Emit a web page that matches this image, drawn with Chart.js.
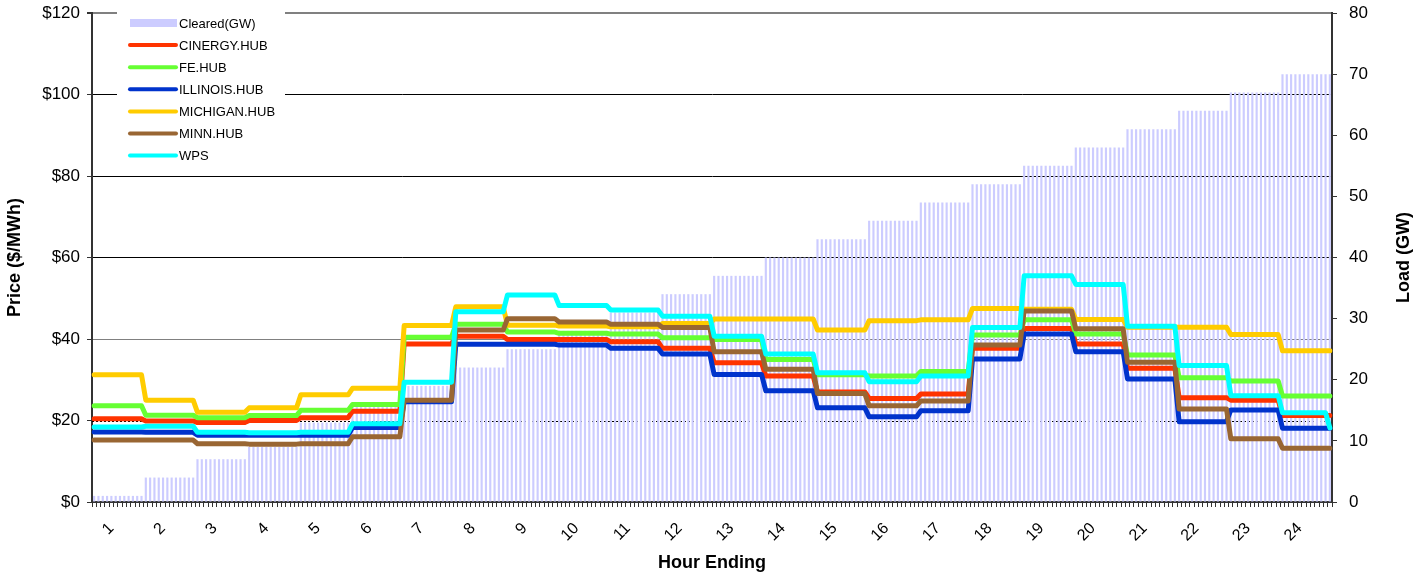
<!DOCTYPE html>
<html>
<head>
<meta charset="utf-8">
<script src="https://cdn.jsdelivr.net/npm/chart.js@4.4.1/dist/chart.umd.min.js"></script>
<style>
  html, body { margin: 0; padding: 0; background: #fff; }
  canvas { display: block; }
</style>
</head>
<body>
<canvas id="myChart" width="1424" height="578"></canvas>
<script>
// hourly values (each hour is drawn as 12 five-minute intervals)
var hours = ['1', '2', '3', '4', '5', '6', '7', '8', '9', '10', '11', '12',
  '13', '14', '15', '16', '17', '18', '19', '20', '21', '22', '23', '24'];
var stepsPerHour = 12;

var clearedGW = [1, 4, 7, 9, 13, 16, 19, 22, 25, 28, 31, 34, 37, 40, 43, 46, 49, 52, 55, 58, 61, 64, 67, 70];
var cinergy = [20.4, 19.9, 19.5, 20.0, 20.7, 22.3, 38.8, 40.7, 39.9, 39.9, 39.3, 37.7, 34.2, 30.9, 27.0, 25.4, 26.5, 37.7, 42.6, 38.8, 32.8, 25.6, 25.0, 21.2];
var fe = [23.6, 21.3, 20.7, 21.2, 22.5, 23.9, 40.4, 43.6, 41.7, 41.4, 41.2, 40.3, 39.9, 35.0, 31.2, 30.9, 32.0, 41.0, 44.7, 41.2, 36.1, 30.5, 29.7, 26.0];
var illinois = [17.2, 17.1, 16.4, 16.4, 16.4, 18.3, 24.6, 38.7, 38.7, 38.5, 37.7, 36.3, 31.3, 27.3, 23.1, 20.9, 22.4, 35.1, 41.2, 36.9, 30.2, 19.7, 22.6, 18.1];
var michigan = [31.2, 25.0, 22.0, 23.1, 26.3, 27.9, 43.3, 47.9, 43.4, 43.2, 43.0, 43.8, 44.9, 44.9, 42.2, 44.5, 44.7, 47.5, 47.3, 44.8, 42.9, 42.9, 41.1, 37.1];
var minn = [15.2, 15.2, 14.3, 14.2, 14.3, 16.0, 25.0, 42.2, 45.0, 44.2, 43.6, 42.8, 36.9, 32.6, 26.6, 23.6, 24.8, 38.5, 46.9, 42.5, 34.3, 22.8, 15.5, 13.2];
var wps = [18.4, 18.6, 17.1, 17.0, 17.1, 19.2, 29.4, 46.7, 50.8, 48.2, 47.1, 45.6, 40.7, 36.3, 31.7, 29.5, 30.9, 42.8, 55.5, 53.4, 43.1, 33.5, 26.1, 21.9];
var wpsLastStep = 18.2;

function expand(hourly) {
  var out = [];
  hourly.forEach(function (v) {
    for (var k = 0; k < stepsPerHour; k++) out.push(v);
  });
  return out;
}

var labels = [];
hours.forEach(function (h) {
  for (var k = 0; k < stepsPerHour; k++) labels.push(h);
});

var wpsData = expand(wps);
wpsData[wpsData.length - 1] = wpsLastStep;

function hubLine(label, data, color, order) {
  return {
    type: 'line', label: label, data: data, yAxisID: 'y',
    borderColor: color, backgroundColor: color, borderWidth: 5,
    pointRadius: 0, fill: false, tension: 0, order: order,
    borderJoinStyle: 'round', borderCapStyle: 'round'
  };
}

Chart.defaults.font.family = '"Liberation Sans", Arial, sans-serif';
Chart.defaults.color = '#000';

// dotted $20 line
var dottedLine = {
  id: 'dottedLine',
  beforeDatasetsDraw: function (chart) {
    var c = chart.ctx, a = chart.chartArea;
    var y = Math.round(chart.scales.y.getPixelForValue(20)) + 0.5;
    c.save();
    c.strokeStyle = '#000';
    c.lineWidth = 1;
    c.setLineDash([2, 2]);
    c.beginPath();
    c.moveTo(a.left, y);
    c.lineTo(a.right, y);
    c.stroke();
    c.restore();
  }
};

var legendBox = {
  id: 'legendBox',
  afterDraw: function (chart) {
    var c = chart.ctx;
    c.save();
    c.fillStyle = '#fff';
    c.fillRect(117, 5, 168, 165);
    c.font = '13px "Liberation Sans", Arial, sans-serif';
    c.textBaseline = 'middle';
    c.textAlign = 'left';
    chart.data.datasets.forEach(function (ds, i) {
      var y = 23 + i * 22.1;
      if (ds.type === 'line') {
        c.strokeStyle = ds.borderColor;
        c.lineWidth = 4;
        c.lineCap = 'round';
        c.beginPath();
        c.moveTo(130, y);
        c.lineTo(176, y);
        c.stroke();
      } else {
        c.fillStyle = ds.backgroundColor;
        c.fillRect(130, y - 4, 47, 8);
      }
      c.fillStyle = '#000';
      c.fillText(ds.label, 179, y + 1);
    });
    c.restore();
  }
};

var rightTitle = {
  id: 'rightTitle',
  afterDraw: function (chart) {
    var c = chart.ctx, a = chart.chartArea;
    c.save();
    c.translate(1404, (a.top + a.bottom) / 2);
    c.rotate(-Math.PI / 2);
    c.font = 'bold 18px "Liberation Sans", Arial, sans-serif';
    c.fillStyle = '#000';
    c.textAlign = 'center';
    c.textBaseline = 'middle';
    c.fillText('Load (GW)', 0, 0);
    c.restore();
  }
};

var ctx = document.getElementById('myChart').getContext('2d');
var myChart = new Chart(ctx, {
  type: 'bar',
  data: {
    labels: labels,
    datasets: [
      {
        label: 'Cleared(GW)', data: expand(clearedGW), yAxisID: 'y1',
        backgroundColor: '#ccccff', barPercentage: 0.5, categoryPercentage: 1, order: 10
      },
      hubLine('CINERGY.HUB', expand(cinergy), '#ff3300', 6),
      hubLine('FE.HUB', expand(fe), '#66ff33', 5),
      hubLine('ILLINOIS.HUB', expand(illinois), '#0033cc', 4),
      hubLine('MICHIGAN.HUB', expand(michigan), '#ffcc00', 3),
      hubLine('MINN.HUB', expand(minn), '#996633', 2),
      hubLine('WPS', wpsData, '#00ffff', 1)
    ]
  },
  options: {
    responsive: false,
    animation: false,
    devicePixelRatio: 1,
    layout: { padding: { top: 13, left: 0, right: 0, bottom: 0 } },
    plugins: { legend: { display: false }, tooltip: { enabled: false } },
    scales: {
      x: {
        offset: true,
        grid: { display: true, drawOnChartArea: false, offset: true, tickLength: 5, color: '#333' },
        border: { color: '#333', width: 2 },
        ticks: {
          autoSkip: false, maxRotation: 45, minRotation: 45, padding: 12,
          font: { size: 16 },
          callback: function (v, i) {
            return i % stepsPerHour === 4 ? this.getLabelForValue(v) : '';
          }
        },
        title: { display: true, text: 'Hour Ending', font: { size: 18, weight: 'bold' } },
        afterFit: function (s) { s.height = 76; }
      },
      y: {
        position: 'left', min: 0, max: 120,
        ticks: { stepSize: 20, padding: 7, font: { size: 17, lineHeight: 0.1 }, callback: function (v) { return '$' + v; } },
        grid: {
          tickLength: 5, tickColor: '#333',
          color: function (c) {
            var v = c.tick.value;
            if (v === 20 || v === 0) return 'rgba(0,0,0,0)';
            if (v === 40 || v === 120) return '#808080';
            return '#000';
          },
          lineWidth: function (c) { return c.tick.value === 120 ? 2 : 1; }
        },
        border: { color: '#333', width: 2 },
        title: { display: true, text: 'Price ($/MWh)', font: { size: 18, weight: 'bold' } },
        afterFit: function (s) { s.width = 92; }
      },
      y1: {
        position: 'right', min: 0, max: 80,
        ticks: { stepSize: 10, padding: 12, font: { size: 17, lineHeight: 0.1 } },
        grid: { drawOnChartArea: false, tickLength: 5, color: '#333' },
        border: { color: '#333', width: 2 },
        afterFit: function (s) { s.width = 92; }
      }
    }
  },
  plugins: [dottedLine, legendBox, rightTitle]
});
</script>
</body>
</html>
